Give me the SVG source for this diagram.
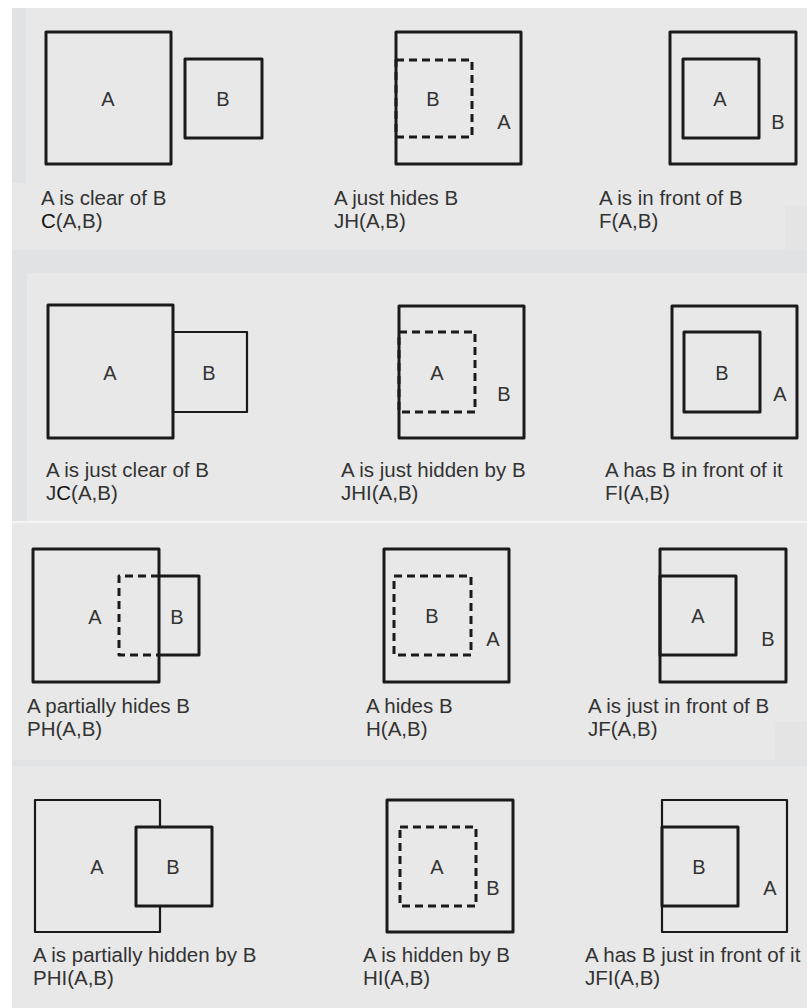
<svg xmlns="http://www.w3.org/2000/svg" width="807" height="1008" viewBox="0 0 807 1008">
<style>
.bg{fill:#e8e8e8}
.shade{fill:#e1e2e4}
.s{fill:none;stroke:#1a1a1a;stroke-width:3;stroke-linejoin:round}
.t{fill:none;stroke:#1a1a1a;stroke-width:2.2;stroke-linejoin:round}
.d{fill:none;stroke:#1a1a1a;stroke-width:3;stroke-dasharray:8 5;stroke-linejoin:round}
.lbl{font-family:"Liberation Sans",Arial,sans-serif;font-size:20px;fill:#333;text-anchor:middle}
.cap{font-family:"Liberation Sans",Arial,sans-serif;font-size:20.5px;fill:#333}
</style>
<rect width="807" height="1008" fill="#ffffff"/>
<rect class="bg" x="12" y="8" width="795" height="1000"/>
<rect class="shade" x="12" y="8" width="14" height="175"/>
<rect class="shade" x="12" y="250" width="795" height="23"/>
<rect class="shade" x="12" y="273" width="15" height="237"/>
<rect class="shade" x="12" y="510" width="15" height="12"/>
<rect fill="#f4f4f4" x="12" y="521" width="795" height="2"/>
<rect class="shade" x="12" y="760" width="795" height="6"/>
<rect fill="#e4e4e4" x="785" y="205" width="22" height="45"/>
<rect fill="#e4e4e4" x="775" y="722" width="32" height="38"/>

<g id="panel-C">
<rect class="s" x="46" y="32" width="125" height="132"/>
<rect class="s" x="185" y="59" width="77" height="79"/>
<text class="lbl" x="108" y="106">A</text>
<text class="lbl" x="223" y="106">B</text>
<text class="cap" x="41" y="205">A is clear of B</text>
<text class="cap" x="41" y="228"><tspan fill="#111">C</tspan>(A,B)</text>
</g>

<g id="panel-JH">
<rect class="s" x="396" y="32" width="125" height="132"/>
<rect class="d" x="396" y="60" width="76" height="77"/>
<text class="lbl" x="433" y="106">B</text>
<text class="lbl" x="504" y="129">A</text>
<text class="cap" x="334" y="205">A just hides B</text>
<text class="cap" x="334" y="228">JH(A,B)</text>
</g>

<g id="panel-F">
<rect class="s" x="670" y="32" width="126" height="132"/>
<rect class="s" x="683" y="59" width="76" height="79"/>
<text class="lbl" x="720" y="106">A</text>
<text class="lbl" x="778" y="129">B</text>
<text class="cap" x="599" y="205">A is in front of B</text>
<text class="cap" x="599" y="228">F(A,B)</text>
</g>

<g id="panel-JC">
<rect class="s" x="48" y="305" width="125" height="133"/>
<rect class="t" x="173" y="332" width="74" height="80"/>
<text class="lbl" x="110" y="380">A</text>
<text class="lbl" x="209" y="380">B</text>
<text class="cap" x="46" y="477">A is just clear of B</text>
<text class="cap" x="46" y="500">J<tspan fill="#111">C</tspan>(A,B)</text>
</g>

<g id="panel-JHI">
<rect class="s" x="399" y="306" width="125" height="132"/>
<rect class="d" x="399" y="332" width="76" height="80"/>
<text class="lbl" x="437" y="380">A</text>
<text class="lbl" x="504" y="401">B</text>
<text class="cap" x="341" y="477">A is just hidden by B</text>
<text class="cap" x="341" y="500">JHI(A,B)</text>
</g>

<g id="panel-FI">
<rect class="s" x="672" y="306" width="125" height="132"/>
<rect class="s" x="684" y="332" width="76" height="80"/>
<text class="lbl" x="722" y="380">B</text>
<text class="lbl" x="780" y="401">A</text>
<text class="cap" x="605" y="477">A has B in front of it</text>
<text class="cap" x="605" y="500">FI(A,B)</text>
</g>

<g id="panel-PH">
<rect class="s" x="33" y="549" width="126" height="133"/>
<path class="s" d="M159,576 H199 V655 H159"/>
<path class="d" d="M159,576 H119 V655 H159"/>
<text class="lbl" x="95" y="624">A</text>
<text class="lbl" x="177" y="624">B</text>
<text class="cap" x="27" y="713">A partially hides B</text>
<text class="cap" x="27" y="736">PH(A,B)</text>
</g>

<g id="panel-H">
<rect class="s" x="384" y="549" width="125" height="133"/>
<rect class="d" x="394" y="576" width="77" height="79"/>
<text class="lbl" x="432" y="623">B</text>
<text class="lbl" x="493" y="646">A</text>
<text class="cap" x="366" y="713">A hides B</text>
<text class="cap" x="366" y="736">H(A,B)</text>
</g>

<g id="panel-JF">
<rect class="s" x="660" y="549" width="126" height="133"/>
<rect class="s" x="660" y="576" width="76" height="79"/>
<text class="lbl" x="698" y="623">A</text>
<text class="lbl" x="768" y="646">B</text>
<text class="cap" x="588" y="713">A is just in front of B</text>
<text class="cap" x="588" y="736">JF(A,B)</text>
</g>

<g id="panel-PHI">
<path class="t" d="M160,827 V800 H35 V932 H160 V906"/>
<rect class="s" x="136" y="827" width="76" height="79"/>
<text class="lbl" x="97" y="874">A</text>
<text class="lbl" x="173" y="874">B</text>
<text class="cap" x="33" y="962">A is partially hidden by B</text>
<text class="cap" x="33" y="985">PHI(A,B)</text>
</g>

<g id="panel-HI">
<rect class="s" x="387" y="800" width="126" height="132"/>
<rect class="d" x="400" y="827" width="76" height="79"/>
<text class="lbl" x="437" y="874">A</text>
<text class="lbl" x="493" y="895">B</text>
<text class="cap" x="363" y="962">A is hidden by B</text>
<text class="cap" x="363" y="985">HI(A,B)</text>
</g>

<g id="panel-JFI">
<rect class="t" x="662" y="800" width="125" height="132"/>
<rect class="s" x="662" y="827" width="76" height="79"/>
<text class="lbl" x="699" y="874">B</text>
<text class="lbl" x="770" y="895">A</text>
<text class="cap" x="585" y="962">A has B just in front of it</text>
<text class="cap" x="585" y="985">JFI(A,B)</text>
</g>

<g id="connectors"/>
</svg>
